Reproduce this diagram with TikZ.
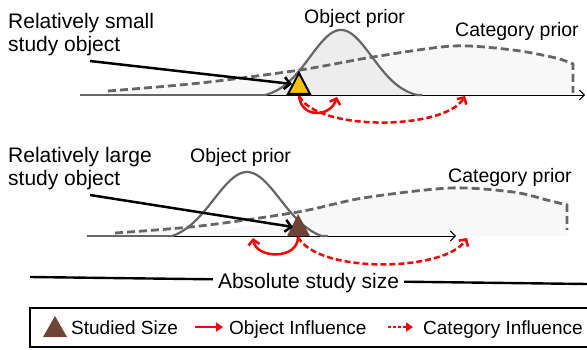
\documentclass[tikz,border=0pt]{standalone}
\usepackage{fontspec}
\setmainfont{Liberation Sans}
\usetikzlibrary{arrows.meta}
\definecolor{curvegray}{HTML}{666666}
\definecolor{objfill}{HTML}{EDEDED}
\definecolor{catfill}{HTML}{F8F8F8}
\definecolor{goldtri}{HTML}{FFC000}
\definecolor{browntri}{HTML}{6E4436}
\tikzset{
  biglabel/.style={font=\fontsize{21}{23}\selectfont, inner sep=0pt, align=left},
  priorlabel/.style={font=\fontsize{19.5}{22}\selectfont, inner sep=0pt},
  leglabel/.style={font=\fontsize{19}{22}\selectfont, inner sep=0pt},
  axisline/.style={black, line width=0.9pt, -{Straight Barb[length=5pt,width=10pt,line width=0.9pt]}},
  objcurve/.style={curvegray, line width=2.2pt},
  catcurve/.style={curvegray, line width=2.8pt, dash pattern=on 8pt off 4pt},
  pointer/.style={black, line width=2.5pt, -{Straight Barb[length=6pt,width=12pt,line width=2.5pt]}},
  objinf/.style={red, line width=2.5pt, -{Straight Barb[length=5pt,width=11pt,line width=2.5pt]}},
  catinf/.style={red, line width=2.5pt, dash pattern=on 6pt off 3pt, -{Straight Barb[length=5pt,width=11pt,line width=2.5pt]}},
}
\begin{document}
\begin{tikzpicture}[x=1pt,y=-1pt]
\useasboundingbox (0,0) rectangle (587,350);
% ---------------- top panel ----------------
\coordinate (ta0) at (80,95);
\coordinate (ta1) at (585,95);
\fill[catfill] plot[smooth] coordinates {(108,91) (200,83) (300,70) (373,57) (453,46) (513,50) (556,58) (573,64)} -- (573,95) -- (108,95) -- cycle;
\fill[objfill] (265,95) -- plot[domain=265:417,samples=80] (\x,{95-68.5*max(0,exp(((\x-341)^2)/(-1922))-0.05)}) -- (422,95) -- cycle;
\draw[axisline] (ta0) -- (ta1);
\draw[catcurve] plot[smooth] coordinates {(108,91) (200,83) (300,70) (373,57) (453,46) (513,50) (556,58) (573,64)} -- (573,93);
\draw[objcurve, line width=1.4pt] (ta0) -- (265,95);
\draw[objcurve] plot[domain=265:417,samples=80] (\x,{95-68.5*max(0,exp(((\x-341)^2)/(-1922))-0.05)}) -- (422,95);
\draw[black, line width=2pt, fill=goldtri, line join=miter] (288,94) -- (299,73) -- (310,94) -- cycle;
\coordinate (t1) at (299,96);
\coordinate (t1o) at (337,97);
\coordinate (t1c) at (465,96);
\node[biglabel, anchor=north west] (lab1) at (8,12.7) {Relatively small\\study object};
\coordinate (p1s) at (90,61);
\coordinate (p1e) at (292,84);
\draw[pointer] (p1s) -- (p1e);
\draw[objinf] (t1) .. controls (301,118) and (330,118) .. (t1o);
\draw[catinf] (t1) .. controls (318,132) and (445,130) .. (t1c);
\node[priorlabel, anchor=base west] (op1) at (304,24) {Object prior};
\node[priorlabel, anchor=base west] (cp1) at (455,37) {Category prior};
% ---------------- bottom panel ----------------
\coordinate (ba0) at (87,236);
\coordinate (ba1) at (456,236);
\fill[catfill] plot[smooth] coordinates {(115,233) (200,226) (298,212) (363,198) (450,188) (513,192) (547,200) (567,205)} -- (567,236) -- (115,236) -- cycle;
\fill[white] (172,236) -- plot[domain=172:298,samples=60] (\x,{236-69.5*max(0,exp(((\x-247)^2)/(-2204))-0.08)}) -- cycle;
\draw[axisline] (ba0) -- (ba1);
\draw[catcurve] plot[smooth] coordinates {(115,233) (200,226) (298,212) (363,198) (450,188) (513,192) (547,200) (567,205)} -- (567,230);
\draw[objcurve, line width=1.4pt] (ba0) -- (172,236);
\draw[objcurve] plot[domain=172:322,samples=80] (\x,{236-69.5*max(0,exp(((\x-247)^2)/(-2204))-0.08)}) -- (328,236);
\fill[browntri] (287,236) -- (298,214) -- (310,236) -- cycle;
\coordinate (t2) at (298,237);
\coordinate (t2o) at (253,238);
\coordinate (t2c) at (467,238);
\node[biglabel, anchor=north west] (lab2) at (8,146.7) {Relatively large\\study object};
\coordinate (p2s) at (90,195);
\coordinate (p2e) at (293,227);
\draw[pointer] (p2s) -- (p2e);
\draw[objinf] (t2) .. controls (298,260) and (256,259) .. (t2o);
\draw[catinf] (t2) .. controls (318,274) and (445,272) .. (t2c);
\node[priorlabel, anchor=base west] (op2) at (190,163) {Object prior};
\node[priorlabel, anchor=base west] (cp2) at (448,183) {Category prior};
% ---------------- absolute size line ----------------
\coordinate (sl0) at (30,277);
\coordinate (sl1) at (587,284);
\draw[black, line width=2.4pt] (sl0) -- (sl1);
\node[biglabel, fill=white, inner xsep=5pt, inner ysep=3pt, anchor=base] (abs) at (308.5,288) {Absolute study size};
% ---------------- legend ----------------
\draw[black, line width=2.4pt] (30,308) rectangle (592,347);
\fill[browntri] (43,337) -- (55,316) -- (67,337) -- cycle;
\node[leglabel, anchor=base west] (l1) at (71,334) {Studied Size};
\coordinate (la0) at (195,327);
\coordinate (la1) at (223,327);
\draw[red, line width=2.2pt, -{Triangle[length=7pt,width=9pt]}] (la0) -- (la1);
\node[leglabel, anchor=base west] (l2) at (229,334) {Object Influence};
\coordinate (lb0) at (388,327);
\coordinate (lb1) at (413,327);
\draw[red, line width=2.2pt, dash pattern=on 3pt off 2pt, -{Triangle[length=7pt,width=9pt]}] (lb0) -- (lb1);
\node[leglabel, anchor=base west] (l3) at (423,334) {Category Influence};
\end{tikzpicture}
\end{document}
